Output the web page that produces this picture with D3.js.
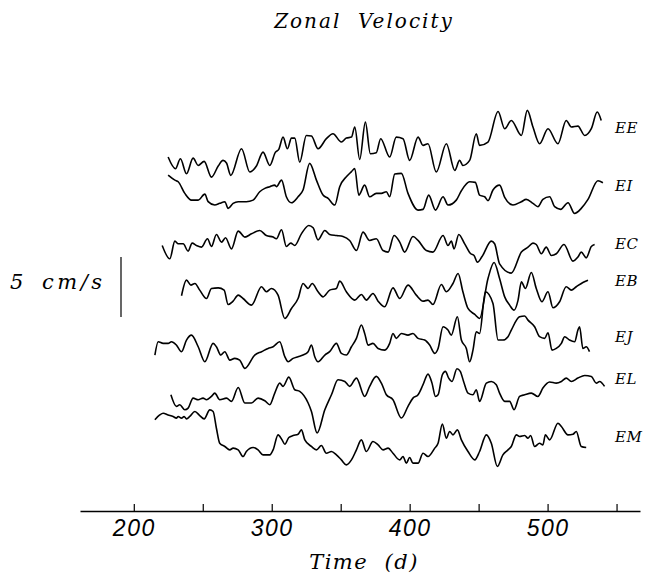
<!DOCTYPE html>
<html>
<head>
<meta charset="utf-8">
<script src="https://cdn.jsdelivr.net/npm/d3@7"></script>
<style>
  body { margin: 0; background: #fff; }
  svg text { fill: #000; }
</style>
</head>
<body>
<div id="chart"></div>
<script>
// mooring names, top to bottom
var moorings = ["EE", "EI", "EC", "EB", "EJ", "EL", "EM"];

// zonal velocity records: [day, cm/s anomaly]
var EE = [[224.9,-0.97],[230.2,-1.94],[233.8,-1.11],[238.2,-2.36],[243,-1.06],[246.7,-1.67],[251,-1.33],[256.3,-2.64],[261.2,-1.72],[264.7,-1.25],[267.2,-1.47],[270.3,-2.5],[278.1,-0.28],[284.1,-2.22],[288.9,-1.72],[293.7,-0.56],[298.6,-1.67],[302.7,-0.56],[305.1,-0.33],[308.2,0.69],[311.4,-0.28],[314.3,0.61],[316.7,0.61],[320.3,-1.39],[325.1,0.83],[328.8,0.78],[333.6,-0.28],[339.6,0.56],[344.4,0.97],[350.5,0.28],[354.1,0.61],[357.8,0.69],[360.2,1.53],[363.8,-1.17],[367.9,1.94],[371.5,-0.69],[375.8,-0.61],[379,0.56],[385.5,-0.97],[390.3,0.69],[395.2,0.56],[400,-1.25],[406.1,0.69],[409.7,0],[413.3,0.14],[419.3,-2.22],[426.6,0.14],[432.7,-2.08],[436.2,-1.25],[438.6,-1.67],[443.5,-1.25],[448.3,0.97],[450.7,0],[456.8,0.28],[464.1,2.83],[468.9,1.39],[473.7,2.08],[481,0.83],[485.3,2.92],[489.4,1.53],[494.2,0.14],[500.3,1.39],[507.5,0.14],[513.5,2.08],[517.2,1.53],[522,1.61],[526.9,0.83],[531.7,1.39],[536,2.78],[538.9,2.08]];

var EI = [[224.9,1.53],[229.8,1.11],[232.2,0.97],[237,0],[241.8,-0.56],[246.7,-0.56],[251.5,-0.06],[253.9,-0.69],[258.7,-0.97],[262.3,-0.83],[266,-0.69],[268.4,-1.25],[272,-0.83],[275.7,-0.69],[281.6,-0.69],[286.5,-0.56],[291.3,0.14],[295,0.42],[298.6,0.56],[302.2,0.69],[303.4,0.56],[307.1,1.11],[310.6,-0.28],[314.3,-0.78],[319.1,-0.28],[322.7,0.28],[327.5,2.5],[332.4,1.11],[337.2,-0.14],[340.9,-0.42],[345.7,-0.97],[349.3,0.56],[354.1,1.39],[357.8,1.81],[360.2,2.08],[363.1,-0.14],[367.4,0.69],[371,-0.28],[375.8,0],[379.5,0],[383.1,0.14],[385.5,-0.28],[389.2,1.61],[394,1.67],[398.8,0],[406.1,-1.39],[409.7,-1.33],[413.8,-0.14],[418.7,-1.39],[424.2,-0.28],[427.8,-0.97],[433.8,-0.56],[437.5,0.22],[443.5,0.97],[447.6,0.92],[450.7,-0.14],[454.4,-0.28],[456.8,-0.61],[460.4,0.28],[465.2,0.69],[468.9,-0.33],[474.9,-0.97],[481,-0.69],[484.5,-0.5],[489.4,-0.83],[493,-1.11],[496.6,-0.5],[501.5,-0.28],[505.1,-1.11],[509.5,-1.33],[514.8,-0.78],[519.6,-1.67],[524.4,-1.25],[529.3,-0.5],[536.5,1.06],[540.1,0.89]];

var EC = [[220.6,-0.14],[226.1,-1.25],[229.8,0.22],[232.2,0],[235.8,0],[239.4,-0.61],[242.3,0.06],[245.4,-0.14],[249.1,-0.28],[253.4,0.42],[256.3,-0.22],[259.9,0.78],[263.6,0.14],[266.5,0.5],[270.8,-0.42],[275.7,1.06],[280.5,0.56],[285.3,0.83],[291.3,1.11],[296.1,0.69],[301,0.56],[303.4,0.42],[307.1,1.17],[310.6,-0.22],[313.8,0.06],[316.7,-0.14],[321.5,0.83],[326.9,1.53],[330,1.33],[333.6,0.33],[338.5,1.11],[342,0.78],[346.9,0.69],[351.7,0.61],[356.5,0.28],[361.4,-0.56],[366.2,0.97],[371,0.28],[375.8,0.42],[380.7,-0.56],[384.4,-0.69],[388.7,0.69],[392.8,0.14],[396.4,-0.69],[402.4,0.61],[406.1,0.28],[412.1,-0.56],[416.9,-0.69],[424.2,0.69],[427.8,-0.14],[430.2,0.22],[432.2,-0.42],[435.6,0.78],[439.9,0],[444.3,-0.83],[446.7,-0.97],[449.1,-1.53],[452.5,-1.06],[459.2,0.22],[461.6,0],[465.2,-1.67],[473.7,-2.44],[481,-0.69],[485.8,-0.28],[489.4,0.06],[491.8,-0.06],[495.5,-0.83],[499,-0.28],[502.7,-0.97],[506.3,-0.83],[511.9,-0.06],[518.4,-1.44],[522,-1.11],[524.4,-0.69],[528,-1.17],[531.7,-0.22],[534.1,-0.06]];

var EB = [[234.6,-0.33],[238.2,0.97],[241.4,0.56],[244.3,0.69],[247.8,0.14],[252.7,-0.56],[256.3,0.28],[261.2,0.33],[265.5,0.14],[268.4,-1.06],[272,-0.78],[275.7,-0.28],[279.2,-0.56],[285.3,-1.11],[292.6,0.42],[296.1,0],[299.8,0.28],[304.6,-0.28],[309.5,-2.22],[314.3,-1.39],[319.1,-0.56],[322.7,0.69],[326.4,0.28],[329.3,0.69],[333.6,0],[337.2,-0.42],[342,0.14],[346.9,0.28],[349.3,0.89],[354.1,0],[360.2,-0.69],[365,-0.22],[368.6,-0.69],[373.4,-0.14],[377.1,-0.78],[381.9,-1.25],[387.9,0.33],[392.8,-0.56],[398.8,0.56],[404.8,-0.28],[409.7,-0.78],[413.3,-0.69],[416.9,-1.06],[423,0.61],[426.6,0],[431.4,0.69],[435.1,1.53],[438.6,0],[442.3,-1.39],[447.2,-1.89],[450.7,-2.22],[456.8,1.11],[461.2,2.44],[465.2,1.11],[468.9,-0.42],[472.5,-1.11],[475.7,-1.53],[478.6,-0.69],[481,0.83],[483.9,0.28],[488.2,1.61],[491.8,0.28],[495.9,-0.83],[500.3,0],[503.9,-1.33],[508.7,-0.83],[513.5,0.42],[517.2,0.14],[520.8,0.42],[525.6,0.78],[529.3,0.97]];

var EJ = [[215.3,-0.97],[217.7,0.14],[221.3,0],[224.9,0],[227.3,0.14],[230.9,-0.14],[234.6,-0.69],[238.2,0.28],[241.8,0.69],[246.7,-0.28],[251.5,-1.53],[257.5,0],[259.9,-0.28],[263.1,-0.97],[266,-0.69],[269.6,-1.39],[273.2,-1.25],[276.8,-1.39],[280.5,-2.08],[287.7,-0.97],[292.6,-0.69],[297.4,-0.42],[301,-0.28],[305.8,0.14],[309.5,-1.11],[311.9,-1.53],[315.5,-1.25],[319.1,-1.11],[322.7,-0.97],[326.4,-0.69],[328.8,-0.14],[331.2,-1.11],[333.6,-1.53],[338.5,-0.97],[342,-0.69],[346.9,0],[350.5,-0.83],[354.1,-0.97],[357.8,-0.28],[361.4,0.42],[365,1.53],[367.4,0.83],[369.9,-0.14],[373.4,0],[377.1,-0.42],[381.9,-0.56],[385.5,0],[387.9,0.83],[390.3,0.42],[394,0.83],[398.8,0.69],[402.4,0.83],[406.1,0.42],[410.9,0.28],[414.5,-0.14],[418.2,-0.83],[420.6,-0.42],[424.2,1.39],[427.8,1.11],[430.2,0.69],[434.6,2.22],[437.5,0.28],[441.1,-0.42],[443.5,-1.53],[445.9,-0.56],[448.3,0.97],[450.7,0.83],[454.9,4.31],[460.4,3.33],[464.1,0.28],[467.6,0.28],[471.3,0.56],[473.7,1.11],[479.7,2.22],[483.4,2.28],[485.8,1.94],[490.6,1.39],[494.2,0.56],[497.9,0.42],[500.3,0.89],[503.2,-0.56],[506.3,-0.42],[510,0],[512.4,0.56],[515.9,0.28],[519.6,0.14],[522,1.11],[523.2,1.39],[525.6,-0.42],[528,-0.28],[530.4,-0.69]];

var EL = [[226.9,-0.28],[230.9,-1.25],[233.3,-1.11],[237,-1.53],[239.4,-1.39],[243,-0.56],[246.7,-0.69],[250.2,-0.56],[252.7,-0.69],[256.3,-0.42],[258.7,-0.14],[262.3,-0.69],[267.2,-0.56],[270.8,-0.83],[275.7,0.33],[280.5,-0.97],[285.3,-0.97],[290.1,-0.56],[295,-0.78],[298.6,-1.11],[302.2,-0.14],[305.8,0.69],[308.2,0.42],[312.4,1.19],[316.7,0.14],[320.3,0],[326.4,-0.97],[328.8,-1.67],[332.9,-3.47],[338.5,-1.53],[343.3,-0.28],[348.1,0.97],[353,0.83],[356.5,0.42],[361.4,1.11],[367.4,-0.42],[371,0.42],[375.8,1.25],[379.5,0.69],[383.1,-0.28],[387.9,-0.69],[394,-2.22],[398.8,-1.25],[402.4,-0.56],[406.1,-0.28],[409.7,0.56],[413.3,1.44],[416.2,0.69],[418.7,-0.42],[420.6,-0.28],[423.7,1.39],[425.9,1.67],[428.3,1.11],[430.7,0.83],[434.3,1.89],[436.7,1.67],[439.1,0.83],[442.3,-0.14],[445.9,-0.28],[448.3,0.14],[450.7,-0.83],[455.6,0.69],[459.2,0.83],[462.8,0.56],[465.2,-0.14],[468.9,-0.83],[472.5,-0.83],[475.7,-1.53],[479.7,-0.42],[483.4,-0.28],[488.2,-0.14],[493,-0.42],[496.6,0.28],[501.5,0.78],[506.3,0.69],[510,0.83],[513.5,1.11],[517.2,0.83],[522,1.11],[526.9,1.33],[531.7,1.25],[535.3,0.69],[537.7,0.83],[541.3,0.42]];

var EM = [[215.3,1.53],[218.8,1.94],[221.3,2.08],[224.9,1.94],[228.5,1.81],[230.9,1.67],[232.2,1.81],[234.6,1.67],[236.5,1.81],[238.2,1.61],[240.6,1.81],[244.3,2.22],[247.8,1.89],[251,1.61],[255.1,2.36],[257.5,2.22],[259.9,0.83],[262.3,-0.42],[266,-0.69],[269.6,-0.97],[272,-0.83],[275.7,-0.97],[279.2,-1.53],[281.6,-1.11],[286.5,-0.78],[290.1,-0.97],[293.7,-1.39],[298.6,-1.39],[301,-0.97],[304.6,0.28],[307.5,-0.14],[309.5,-0.5],[312.4,0.06],[315.5,0.22],[319.1,0.33],[321.5,0.69],[324,-0.14],[328.8,-0.69],[332.4,-0.97],[336,-0.61],[339.6,-1.25],[343.3,-1.11],[346.9,-1.39],[350.5,-1.81],[354.1,-2.22],[357.8,-1.81],[361.4,-0.97],[365,-0.14],[368.6,-1.11],[373.4,-0.28],[377.1,-0.56],[380.7,-0.97],[384.4,-0.83],[387.9,-1.25],[392.8,-1.81],[395.2,-1.53],[397.6,-2.08],[400,-1.61],[402.4,-2.08],[406.1,-2.08],[409.7,-1.25],[413.3,-1.53],[418.2,-0.83],[420.6,-0.42],[423.7,1.17],[426.6,0],[429,0.56],[431.4,0.28],[434.6,0.69],[437.5,-0.14],[442.3,-1.11],[447.2,-1.81],[450.7,-1.11],[455.6,0.28],[459.2,-0.42],[463.6,-2.36],[467.6,-1.39],[471.3,-0.97],[473.7,-0.69],[477.3,0.28],[479.7,0.14],[483.4,0.22],[485.8,0],[487.7,0.22],[490.6,-0.69],[494.2,-0.42],[496.6,-0.56],[498.4,0.28],[501.5,-0.14],[507.5,1.25],[510,0.97],[514.8,0.28],[518.4,0.33],[520.8,0.56],[524.4,-0.69],[528,-0.78]];

var records = [EE, EI, EC, EB, EJ, EL, EM];

// where each record is stacked (cm/s on the shared vertical scale)
var offsets = [14.3, 10.3, 6.1, 2.1, -2.2, -6.2, -10.1];
var labelLevels = [15.75, 10.9, 6.1, 3.0, -1.67, -5.17, -10.0];

var timeTicks = [200, 250, 300, 350, 400, 450, 500, 550];
var scaleBar = [0, 5];

var width = 645, height = 576;

var svg = d3.select("#chart").append("svg")
    .attr("width", width)
    .attr("height", height);

var x = d3.scaleLinear()
    .domain([161, 567])
    .range([80, 640]);

// 5 cm/s spans 60 px
var y = d3.scaleLinear()
    .domain([0, 5])
    .range([317, 257]);

var serif = "'DejaVu Serif', 'Liberation Serif', serif";

function italic(sel, size, spacing) {
    sel.style("font-family", serif)
        .style("font-style", "italic")
        .style("font-size", size + "px")
        .style("letter-spacing", spacing + "px")
        .style("white-space", "pre");
    return sel;
}

svg.append("text")
    .attr("x", 364)
    .attr("y", 28)
    .attr("text-anchor", "middle")
    .call(italic, 20, 2)
    .text("Zonal  Velocity");

var line = d3.line()
    .curve(d3.curveMonotoneX);

svg.selectAll(".rec")
    .data(records)
    .enter()
    .append("path")
    .attr("class", "rec")
    .attr("d", function(d, i) {
        return line(d.map(function(p) {
            return [x(p[0]), y(p[1] + offsets[i])];
        }));
    })
    .style("fill", "none")
    .style("stroke", "#000")
    .style("stroke-width", 1.6)
    .style("stroke-linejoin", "round");

svg.selectAll(".name")
    .data(moorings)
    .enter()
    .append("text")
    .attr("class", "name")
    .attr("x", 615)
    .attr("y", function(d, i) { return y(labelLevels[i]) + 5; })
    .call(italic, 15, 0.5)
    .text(function(d) { return d; });

// scale bar
svg.append("line")
    .attr("x1", 121).attr("x2", 121)
    .attr("y1", y(scaleBar[0])).attr("y2", y(scaleBar[1]))
    .style("stroke", "#000")
    .style("stroke-width", 1.2);

svg.append("text")
    .attr("x", 10)
    .attr("y", 289)
    .call(italic, 21, 0)
    .text(scaleBar[1]);

svg.append("text")
    .attr("x", 42)
    .attr("y", 289)
    .call(italic, 21, 3.5)
    .text("cm/s");

// time axis, ticks pointing up
var xAxis = d3.axisBottom(x)
    .tickValues(timeTicks)
    .tickSizeInner(-7)
    .tickSizeOuter(0)
    .tickPadding(9)
    .tickFormat(function(d) { return d % 100 === 0 ? d : ""; });

var gx = svg.append("g")
    .attr("class", "axes x-axis")
    .attr("transform", "translate(0,511)")
    .call(xAxis);

gx.select(".domain").style("stroke-width", 1.5);
gx.selectAll(".tick line").style("stroke-width", 1.2);
gx.selectAll(".tick text")
    .style("font-family", "'Liberation Sans', Arial, sans-serif")
    .style("font-style", "italic")
    .style("font-size", "23px")
    .style("letter-spacing", "1.5px");

svg.append("text")
    .attr("x", 364)
    .attr("y", 569)
    .attr("text-anchor", "middle")
    .call(italic, 21, 1.5)
    .text("Time  (d)");
</script>
</body>
</html>
